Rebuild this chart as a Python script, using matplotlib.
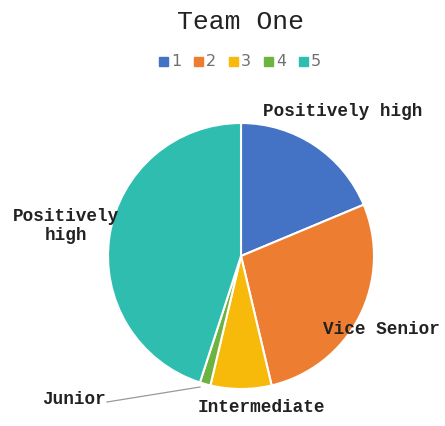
import matplotlib.pyplot as plt

# 数据
labels = ["Positively high", "Vice Senior", "Intermediate", "Junior", "Positively\nhigh"]
legend_names = ["1", "2", "3", "4", "5"]
values = [18.7, 27.6, 7.4, 1.3, 45.0]
colors = ["#4472C4", "#ED7D31", "#F7BA0B", "#6DB33F", "#2EBDAF"]

W, H = 445, 427
fig = plt.figure(figsize=(W / 100, H / 100), dpi=100)
ax = fig.add_axes([0, 0, 1, 1])
ax.set_xlim(0, W)
ax.set_ylim(0, H)
ax.set_aspect("equal")
ax.axis("off")

# 饼图, 从顶部开始顺时针
wedges, _ = ax.pie(values, colors=colors, startangle=90, counterclock=False,
                   center=(241, H - 257), radius=133,
                   wedgeprops=dict(edgecolor="white", linewidth=1.5))
ax.set_xlim(0, W)
ax.set_ylim(0, H)

mono = ["Liberation Mono", "DejaVu Sans Mono"]
lab_kw = dict(family=mono, fontsize=12.8, fontweight="bold", color="#222222")

# 标签位置 (像素坐标)
ax.text(263, H - 111, labels[0], ha="left", va="center", **lab_kw)
ax.text(440, H - 330, labels[1], ha="right", va="center", **lab_kw)
ax.text(198, H - 408, labels[2], ha="left", va="center", **lab_kw)
ax.text(42, H - 400, labels[3], ha="left", va="center", **lab_kw)
ax.text(66, H - 226, labels[4], ha="center", va="center", linespacing=1.15, **lab_kw)
ax.plot([107, 200], [H - 403, H - 388], color="#999999", lw=0.9)

# 标题
ax.text(240, H - 22, "Team One", ha="center", va="center",
        family=mono, fontsize=19, color="#222222")

# 图例
x = 159
for name, c in zip(legend_names, colors):
    ax.add_patch(plt.Rectangle((x, H - 67), 9, 9, color=c))
    ax.text(x + 12, H - 62, name, ha="left", va="center",
            fontsize=11.5, color="#707070", family="DejaVu Sans")
    x += 35

fig.savefig("out.png", dpi=100)
